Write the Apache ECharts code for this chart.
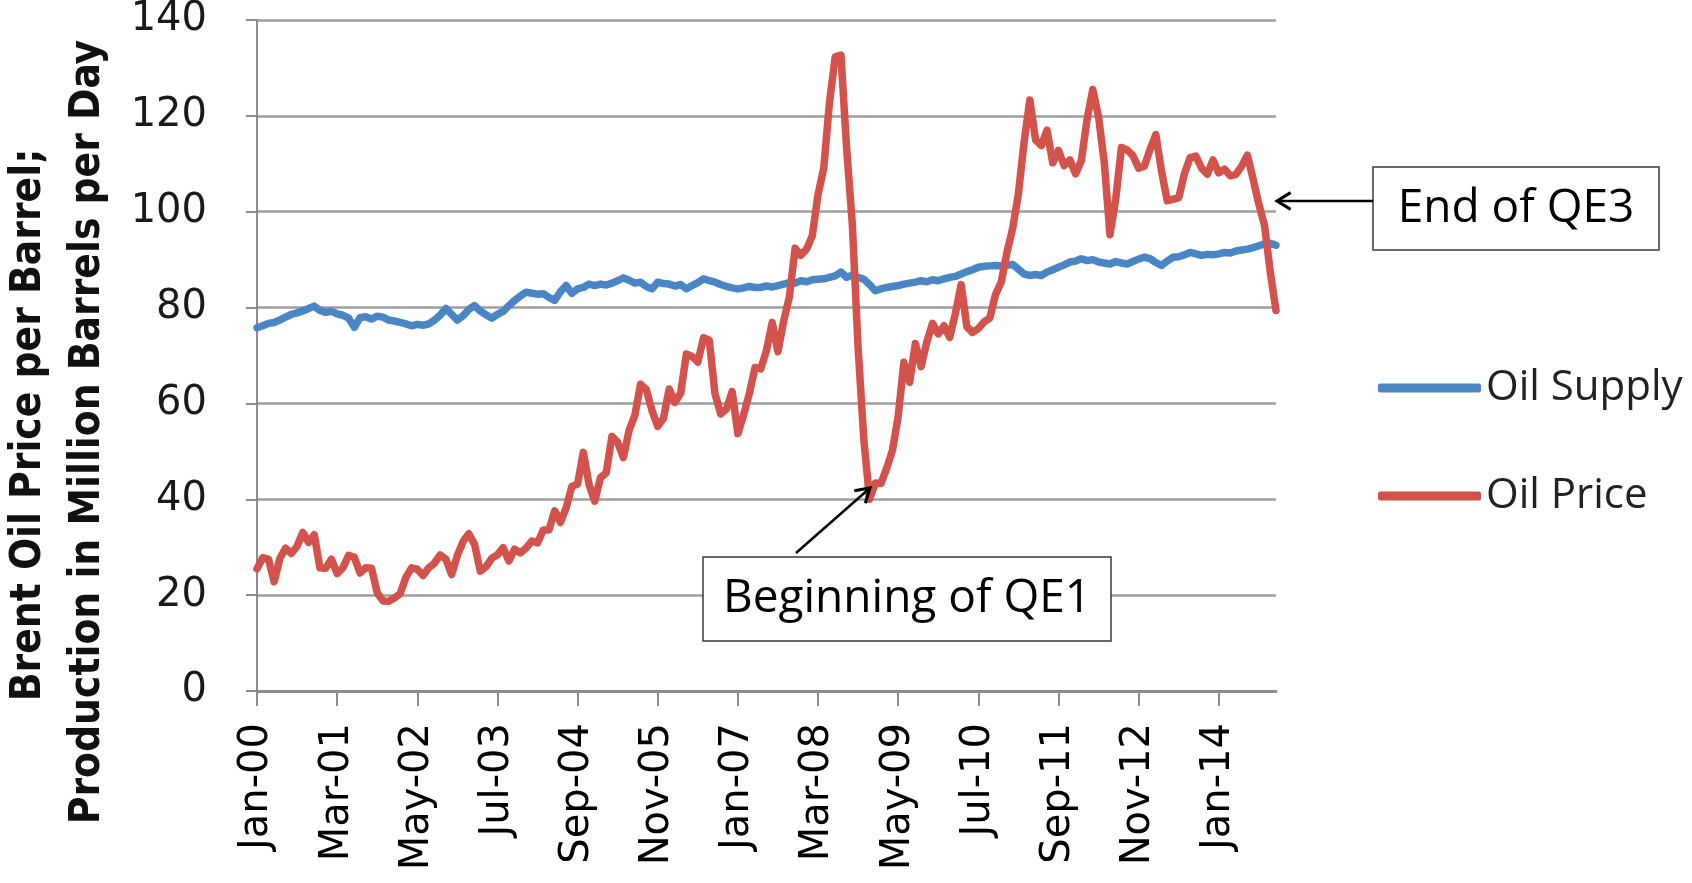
<!DOCTYPE html>
<html>
<head>
<meta charset="utf-8">
<script src="https://cdn.jsdelivr.net/npm/echarts@6/dist/echarts.min.js"></script>
<style>
html,body{margin:0;padding:0;background:#fff;}
#chart{width:1692px;height:883px;}
</style>
</head>
<body>
<div id="chart"></div>
<script>
// ---- data ----
const monthNames = ['Jan','Feb','Mar','Apr','May','Jun','Jul','Aug','Sep','Oct','Nov','Dec'];
const startYear = 2000, endYear = 2014, lastMonthOfEndYear = 11; // Jan-2000 .. Nov-2014
const categories = [];
for (let y = startYear; y <= endYear; y++) {
  const mMax = (y === endYear) ? lastMonthOfEndYear : 12;
  for (let m = 0; m < mMax; m++) categories.push(monthNames[m] + '-' + String(y % 100).padStart(2, '0'));
}

// Oil supply, million barrels per day
const oilSupply = [
  75.8, 76.2, 76.7, 76.9, 77.4, 78.0, 78.6, 78.9, 79.3, 79.8, 80.3, 79.4,
  79.0, 79.2, 78.7, 78.4, 77.8, 75.9, 77.9, 78.1, 77.6, 78.2, 78.0, 77.4,
  77.2, 76.9, 76.6, 76.2, 76.5, 76.3, 76.6, 77.4, 78.4, 79.8, 78.6, 77.4,
  78.3, 79.6, 80.4, 79.3, 78.5, 77.8, 78.6, 79.2, 80.4, 81.5, 82.4, 83.2,
  83.0, 82.8, 82.9, 82.1, 81.5, 83.3, 84.6, 83.0, 83.9, 84.2, 84.9, 84.6,
  84.9, 84.7, 85.1, 85.6, 86.2, 85.7, 85.1, 85.3, 84.4, 83.9, 85.3, 85.0,
  84.9, 84.5, 84.8, 83.9, 84.6, 85.2, 86.0, 85.6, 85.3, 84.8, 84.4, 84.1,
  83.9, 84.1, 84.4, 84.2, 84.2, 84.5, 84.3, 84.6, 84.9, 85.2, 85.1, 85.6,
  85.4, 85.8, 85.9, 86.0, 86.3, 86.6, 87.4, 86.3, 86.8, 86.3, 85.9, 84.8,
  83.5, 83.9, 84.2, 84.4, 84.6, 84.9, 85.1, 85.3, 85.6, 85.4, 85.8, 85.6,
  86.0, 86.3, 86.5, 87.0, 87.5, 87.9, 88.4, 88.6, 88.7, 88.8, 88.7, 88.8,
  89.0, 88.0, 87.0, 86.7, 86.9, 86.7, 87.4, 87.9, 88.4, 88.9, 89.5, 89.7,
  90.2, 89.8, 90.0, 89.5, 89.3, 89.1, 89.6, 89.3, 89.1, 89.6, 90.1, 90.5,
  90.2, 89.4, 88.8, 89.7, 90.5, 90.6, 91.0, 91.5, 91.2, 90.9, 91.1, 91.0,
  91.2, 91.5, 91.4, 91.8, 92.0, 92.2, 92.5, 92.9, 93.3, 93.4, 93.0
];

// Brent oil price, $ per barrel
const oilPrice = [
  25.5, 27.8, 27.5, 22.8, 27.7, 29.8, 28.7, 30.2, 33.1, 31.0, 32.6, 25.7,
  25.6, 27.5, 24.5, 25.7, 28.3, 27.9, 24.6, 25.7, 25.6, 20.5, 18.8, 18.7,
  19.4, 20.3, 23.7, 25.7, 25.4, 24.1, 25.7, 26.7, 28.4, 27.5, 24.3, 28.3,
  31.2, 32.8, 30.6, 25.0, 25.9, 27.7, 28.4, 29.9, 27.1, 29.6, 28.8, 29.8,
  31.3, 30.9, 33.6, 33.6, 37.6, 35.2, 38.2, 42.7, 43.2, 49.8, 43.1, 39.6,
  44.5, 45.5, 53.1, 51.9, 48.7, 54.4, 57.5, 64.0, 62.9, 58.5, 55.2, 56.9,
  63.0, 60.2, 62.1, 70.3, 69.8, 68.6, 73.7, 73.2, 62.0, 57.8, 58.8, 62.5,
  53.7, 57.6, 62.1, 67.5, 67.2, 71.1, 76.9, 70.8, 77.2, 82.3, 92.4, 90.9,
  92.2, 95.0, 103.6, 109.1, 122.8, 132.3, 132.7, 113.2, 97.2, 71.6, 52.5, 40.0,
  43.4, 43.3, 46.5, 50.2, 57.3, 68.6, 64.4, 72.5, 67.7, 72.8, 76.7, 74.5,
  76.2, 73.8, 78.8, 84.8, 76.0, 74.8, 75.6, 77.0, 77.8, 82.7, 85.3, 91.5,
  96.5, 103.7, 114.6, 123.3, 115.0, 113.8, 117.0, 110.2, 112.8, 109.6, 110.8, 107.9,
  110.7, 119.3, 125.5, 119.8, 110.3, 95.2, 102.6, 113.4, 112.9, 111.7, 109.1, 109.5,
  113.0, 116.1, 108.5, 102.3, 102.6, 102.9, 107.9, 111.3, 111.6, 109.1, 107.8, 110.8,
  108.1, 108.9, 107.5, 107.8, 109.5, 111.8, 106.8, 101.6, 97.1, 87.4, 79.4
];

const yTicks = { min: 0, max: 140, interval: 20 };
const labelEvery = 14; // one tick label every 14 months
const seriesNames = ['Oil Supply', 'Oil Price'];
const yTitle = ['Brent Oil Price per Barrel;', 'Production in Million Barrels per Day'];
const notes = ['End of QE3', 'Beginning of QE1'];

// ---- chart ----
const chart = echarts.init(document.getElementById('chart'), null, { renderer: 'canvas' });

function arrowHead(x0, y0, x1, y1, len, spread) {
  const a = Math.atan2(y1 - y0, x1 - x0);
  return [
    [x1 - len * Math.cos(a - spread), y1 - len * Math.sin(a - spread)],
    [x1, y1],
    [x1 - len * Math.cos(a + spread), y1 - len * Math.sin(a + spread)]
  ];
}

const titleFont = '"DejaVu Sans Condensed", "Liberation Sans Narrow", sans-serif';
const noteFont = '"Open Sans", "DejaVu Sans", sans-serif';

const qe3 = { box: [1373, 167, 286, 83], from: [1373, 201], to: [1277, 201] };
const qe1 = { box: [703, 557, 408, 84], from: [796, 553], to: [870, 488] };

const option = {
  backgroundColor: '#ffffff',
  animation: false,
  grid: { left: 257, right: 416, top: 19, bottom: 192, containLabel: false },
  legend: {
    data: seriesNames,
    orient: 'vertical',
    left: 1373,
    top: 361,
    itemWidth: 103,
    itemHeight: 9,
    itemGap: 64,
    icon: 'roundRect',
    textStyle: { fontFamily: noteFont, fontSize: 42, color: '#222', lineHeight: 44 }
  },
  xAxis: {
    type: 'category',
    data: categories,
    boundaryGap: false,
    axisLine: { show: true, lineStyle: { color: '#8c8c8c', width: 3 } },
    axisTick: { show: true, interval: labelEvery - 1, length: 15, lineStyle: { color: '#8c8c8c', width: 2 } },
    axisLabel: {
      interval: labelEvery - 1, rotate: 90, margin: 32,
      fontFamily: 'DejaVu Sans', fontSize: 40, color: '#000'
    },
    splitLine: { show: false }
  },
  yAxis: {
    type: 'value',
    min: yTicks.min, max: yTicks.max, interval: yTicks.interval,
    axisLine: { show: true, lineStyle: { color: '#8c8c8c', width: 2 } },
    axisTick: { show: true, length: 11, lineStyle: { color: '#8c8c8c', width: 2 } },
    axisLabel: { margin: 50, fontFamily: 'DejaVu Sans', fontSize: 40, color: '#1a1a1a' },
    splitLine: { show: true, lineStyle: { color: '#9e9e9e', width: 2.5 } }
  },
  series: [
    {
      name: seriesNames[0], type: 'line', data: oilSupply, showSymbol: false, symbol: 'none',
      lineStyle: { color: '#4a86c6', width: 7.5, cap: 'round', join: 'round' },
      itemStyle: { color: '#4a86c6' }
    },
    {
      name: seriesNames[1], type: 'line', data: oilPrice, showSymbol: false, symbol: 'none',
      lineStyle: { color: '#d4524c', width: 7.5, cap: 'round', join: 'round' },
      itemStyle: { color: '#d4524c' }
    }
  ],
  graphic: [
    { type: 'text', x: 29, y: 425, rotation: Math.PI / 2,
      style: { text: yTitle[0], font: 'bold 42px ' + titleFont, fill: '#111', align: 'center', verticalAlign: 'middle' } },
    { type: 'text', x: 88, y: 432, rotation: Math.PI / 2,
      style: { text: yTitle[1], font: 'bold 42px ' + titleFont, fill: '#111', align: 'center', verticalAlign: 'middle' } },
    // End of QE3
    { type: 'rect', shape: { x: qe3.box[0], y: qe3.box[1], width: qe3.box[2], height: qe3.box[3] },
      style: { fill: '#fff', stroke: '#3a3a3a', lineWidth: 1.5 }, z: 100 },
    { type: 'text', x: qe3.box[0] + qe3.box[2] / 2, y: qe3.box[1] + qe3.box[3] / 2, z: 101,
      style: { text: notes[0], font: '46px ' + noteFont, fill: '#000', align: 'center', verticalAlign: 'middle' } },
    { type: 'line', shape: { x1: qe3.from[0], y1: qe3.from[1], x2: qe3.to[0] + 2, y2: qe3.to[1] },
      style: { stroke: '#000', lineWidth: 2.5 }, z: 100 },
    { type: 'polyline', shape: { points: arrowHead(qe3.from[0], qe3.from[1], qe3.to[0], qe3.to[1], 16, 0.55) },
      style: { stroke: '#000', lineWidth: 3, fill: null }, z: 100 },
    // Beginning of QE1
    { type: 'rect', shape: { x: qe1.box[0], y: qe1.box[1], width: qe1.box[2], height: qe1.box[3] },
      style: { fill: '#fff', stroke: '#3a3a3a', lineWidth: 1.5 }, z: 100 },
    { type: 'text', x: qe1.box[0] + qe1.box[2] / 2, y: qe1.box[1] + qe1.box[3] / 2, z: 101,
      style: { text: notes[1], font: '46px ' + noteFont, fill: '#000', align: 'center', verticalAlign: 'middle' } },
    { type: 'line', shape: { x1: qe1.from[0], y1: qe1.from[1], x2: qe1.to[0], y2: qe1.to[1] },
      style: { stroke: '#000', lineWidth: 2.5 }, z: 100 },
    { type: 'polyline', shape: { points: arrowHead(qe1.from[0], qe1.from[1], qe1.to[0], qe1.to[1], 16, 0.55) },
      style: { stroke: '#000', lineWidth: 3, fill: null }, z: 100 }
  ]
};
chart.setOption(option);
</script>
</body>
</html>
